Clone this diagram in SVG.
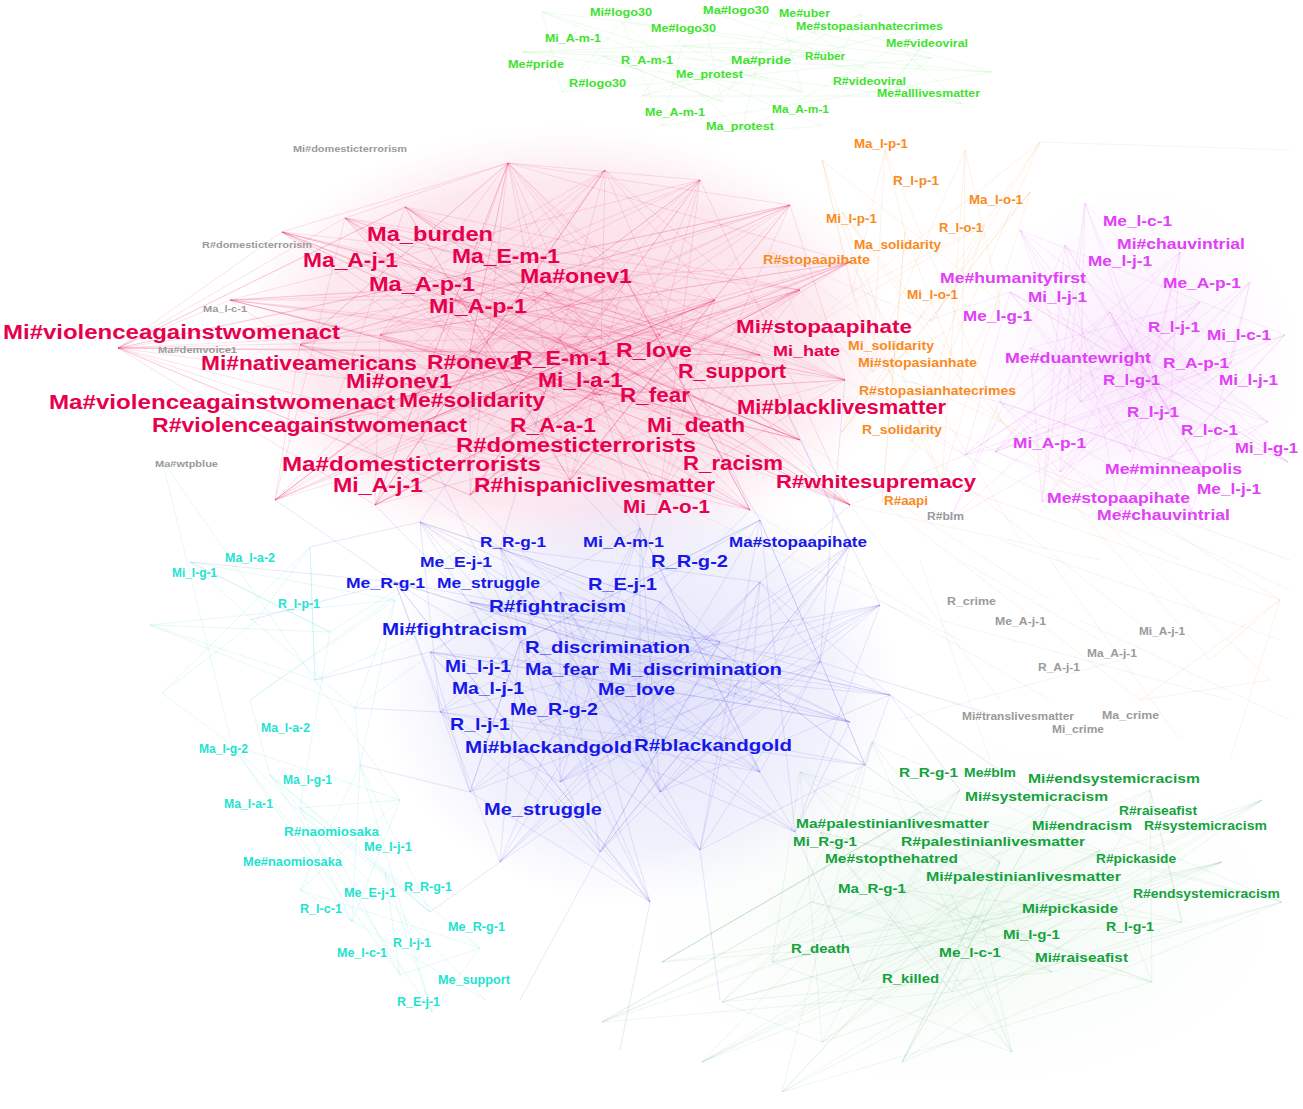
<svg xmlns="http://www.w3.org/2000/svg" width="1303" height="1109" viewBox="0 0 1303 1109">
<style>
text{font-family:"Liberation Sans",Arial,sans-serif;font-weight:bold}
.red{fill:#e6004e}.blue{fill:#1717e8}.mag{fill:#e040f6}.org{fill:#f98a1e}.lg{fill:#3fe22e}.dg{fill:#14a23d}.cy{fill:#1fe3d0}.gr{fill:#9a9a9a}
.e{fill:none;stroke-width:0.8;stroke-linejoin:round}
.er{stroke:#e8004f;stroke-opacity:0.15}.eb{stroke:#3030e0;stroke-opacity:0.15}.em{stroke:#d84cf0;stroke-opacity:0.14}.eo{stroke:#f58a2a;stroke-opacity:0.14}.eg{stroke:#2aa24c;stroke-opacity:0.11}.ec{stroke:#22d8c8;stroke-opacity:0.16}.el{stroke:#40e040;stroke-opacity:0.12}.ex{stroke:#c08080;stroke-opacity:0.12}
</style>
<defs>
<radialGradient id="hr"><stop offset="0" stop-color="#f08cb0" stop-opacity="0.4"/><stop offset="0.75" stop-color="#f4a6c2" stop-opacity="0.24"/><stop offset="1" stop-color="#f8c0d4" stop-opacity="0"/></radialGradient>
<radialGradient id="hb"><stop offset="0" stop-color="#a0a0f0" stop-opacity="0.34"/><stop offset="0.75" stop-color="#b8b8f4" stop-opacity="0.18"/><stop offset="1" stop-color="#c8c8f8" stop-opacity="0"/></radialGradient>
<radialGradient id="hm"><stop offset="0" stop-color="#eeb0f6" stop-opacity="0.3"/><stop offset="1" stop-color="#f4c8fa" stop-opacity="0"/></radialGradient>
<radialGradient id="hg"><stop offset="0" stop-color="#b4e4c0" stop-opacity="0.2"/><stop offset="1" stop-color="#c8ecd0" stop-opacity="0"/></radialGradient>
</defs>
<rect width="1303" height="1109" fill="#ffffff"/>
<g id="haze">
<ellipse cx="565" cy="345" rx="335" ry="220" fill="url(#hr)"/>
<ellipse cx="640" cy="690" rx="260" ry="215" fill="url(#hb)"/>
<ellipse cx="1135" cy="365" rx="165" ry="175" fill="url(#hm)"/>
<ellipse cx="960" cy="915" rx="320" ry="175" fill="url(#hg)"/>
</g>
<g id="connectors">
<path class="e er" d="M508 163 L560 340 L282 232 L800 440 L455 300 L850 505 L405 207 L330 420 L715 300 L570 480 L700 180 L380 335 L375 505 L850 262 L505 400 L345 218 L760 355 L230 300 L625 278 L275 500 L605 170 L600 395 L300 345 L660 495 L790 205 L845 380 L545 292 L750 510 L470 350 L700 420 L800 290 L470 495 L660 335 L118 348 L415 425 L508 163"/>
<path class="e er" d="M405 207 L545 292 L760 355 L275 500 L345 218 L715 300 L415 425 L660 495 L700 180 L300 345 L700 420 L850 505 L508 163 L455 300 L845 380 L375 505 L605 170 L470 350 L600 395 L230 300 L850 262 L560 340 L800 440 L282 232 L800 290 L330 420 L570 480 L790 205 L380 335 L505 400 L750 510 L625 278 L660 335 L470 495 L118 348 L405 207"/>
<path class="e er" d="M345 218 L600 395 L850 262 L470 495 L508 163 L300 345 L625 278 L750 510 L282 232 L760 355 L455 300 L800 440 L230 300 L545 292 L275 500 L700 180 L415 425 L800 290 L570 480 L405 207 L660 335 L850 505 L380 335 L605 170 L375 505 L715 300 L330 420 L790 205 L118 348 L470 350 L660 495 L845 380 L505 400 L560 340 L700 420 L345 218"/>
<path class="e er" d="M282 232 L545 292 L700 420 L405 207 L570 480 L455 300 L660 335 L275 500 L790 205 L470 350 L850 505 L345 218 L845 380 L625 278 L470 495 L700 180 L505 400 L300 345 L750 510 L605 170 L330 420 L800 290 L375 505 L508 163 L800 440 L380 335 L850 262 L415 425 L715 300 L230 300 L600 395 L560 340 L660 495 L760 355 L118 348 L282 232"/>
<path class="e er" d="M605 170 L300 345 L275 500 L545 292 L850 505 L282 232 L660 335 L700 420 L508 163 L660 495 L715 300 L415 425 L230 300 L700 180 L470 495 L470 350 L345 218 L600 395 L845 380 L455 300 L375 505 L800 290 L405 207 L800 440 L760 355 L118 348 L790 205 L570 480 L380 335 L625 278 L750 510 L330 420 L850 262 L505 400 L560 340 L605 170"/>
<path class="e er" d="M700 180 L275 500 L800 290 L345 218 L660 495 L560 340 L230 300 L845 380 L405 207 L700 420 L455 300 L750 510 L300 345 L790 205 L505 400 L282 232 L850 505 L470 350 L508 163 L570 480 L625 278 L330 420 L760 355 L605 170 L375 505 L600 395 L850 262 L380 335 L800 440 L545 292 L415 425 L715 300 L470 495 L660 335 L700 180"/>
<path class="e er" d="M118 348L405 207M118 348L345 218M118 348L455 300M118 348L380 335M118 348L330 420M118 348L375 505M118 348L505 400M118 348L470 495M118 348L230 300M508 163L282 232M508 163L345 218M508 163L380 335M508 163L470 350M508 163L660 335M508 163L850 262M508 163L790 205M508 163L700 180M508 163L300 345M700 180L850 505M605 170L845 380M790 205L300 345M850 262L330 420M760 355L282 232M600 395L790 205M715 300L275 500M545 292L850 505M625 278L375 505M700 420L230 300"/>
<path class="e ex" d="M850 505L1100 560M800 440L1050 600M850 262L1020 540M845 380L1290 590M750 510L930 620M850 505L1000 700M760 355L1180 560M660 495L960 640"/>
<path class="e eb" d="M420 522 L440 712 L760 520 L865 765 L660 602 L795 832 L500 548 L850 722 L430 652 L650 902 L395 582 L720 642 L600 852 L560 592 L560 782 L640 528 L640 722 L880 605 L500 862 L850 545 L660 792 L620 652 L890 695 L470 602 L750 702 L760 582 L700 850 L820 662 L760 772 L520 642 L470 792 L540 722 L420 522"/>
<path class="e eb" d="M500 548 L760 582 L640 722 L500 862 L640 528 L430 652 L470 792 L650 902 L395 582 L620 652 L760 772 L420 522 L660 602 L750 702 L600 852 L850 545 L820 662 L660 792 L890 695 L560 592 L440 712 L865 765 L760 520 L520 642 L850 722 L795 832 L470 602 L720 642 L560 782 L880 605 L540 722 L700 850 L500 548"/>
<path class="e eb" d="M640 528 L660 792 L560 592 L700 850 L420 522 L620 652 L880 605 L795 832 L760 520 L640 722 L660 602 L865 765 L890 695 L760 582 L500 862 L395 582 L470 792 L520 642 L650 902 L500 548 L540 722 L720 642 L850 545 L600 852 L430 652 L850 722 L470 602 L820 662 L750 702 L560 782 L440 712 L760 772 L640 528"/>
<path class="e eb" d="M760 520 L520 642 L500 862 L660 602 L420 522 L850 722 L620 652 L395 582 L795 832 L540 722 L640 528 L760 772 L430 652 L890 695 L470 602 L600 852 L720 642 L500 548 L660 792 L880 605 L440 712 L650 902 L560 592 L750 702 L850 545 L470 792 L820 662 L760 582 L560 782 L640 722 L865 765 L700 850 L760 520"/>
<path class="e eb" d="M420 522L505 400M500 548L330 420M640 528L600 395M760 520L700 420M850 545L800 440M560 592L470 495M660 602L750 510M395 582L275 500M470 602L375 505M760 582L850 505M880 605L760 355M720 642L570 480M520 642L415 425M620 652L660 495M820 662L845 380M640 528L470 350M500 548L560 340M395 582L250 620M430 652L315 680M440 712L355 708M470 792L360 765M395 582L190 562M420 522L310 547M650 902L620 1050M600 852L520 1000M700 850L720 1000M500 862L430 912M795 832L860 980M865 765L1000 862M890 695L1050 805M890 695L960 790M820 662L1010 720"/>
<path class="e eg" d="M800 772 L1282 902 L1050 805 L902 1062 L1000 862 L782 1092 L872 742 L1052 972 L812 902 L602 1022 L1262 800 L1082 902 L662 962 L920 812 L722 1002 L960 790 L862 982 L1222 862 L702 1062 L1150 790 L1152 982 L982 922 L1012 1052 L820 832 L952 992 L1100 850 L822 1042 L1182 922 L902 890 L772 962 L800 772"/>
<path class="e eg" d="M872 742 L1100 850 L862 982 L702 1062 L960 790 L812 902 L1152 982 L782 1092 L1262 800 L982 922 L822 1042 L800 772 L1000 862 L952 992 L602 1022 L1150 790 L1182 922 L662 962 L920 812 L1282 902 L902 1062 L1050 805 L902 890 L1052 972 L820 832 L1082 902 L722 1002 L1222 862 L772 962 L1012 1052 L872 742"/>
<path class="e eg" d="M960 790 L662 962 L920 812 L1012 1052 L800 772 L982 922 L1222 862 L782 1092 L1050 805 L862 982 L1000 862 L902 1062 L1262 800 L702 1062 L1100 850 L1152 982 L902 890 L602 1022 L812 902 L872 742 L772 962 L1082 902 L1150 790 L1182 922 L820 832 L952 992 L1282 902 L1052 972 L722 1002 L822 1042 L960 790"/>
<path class="e em" d="M1085 203 L1060 472 L1250 282 L1042 502 L1030 348 L950 520 L1065 245 L1205 472 L1000 402 L1192 512 L1110 312 L1268 422 L1020 230 L1285 335 L1120 512 L1180 252 L1130 452 L1232 362 L965 455 L1010 292 L1288 462 L1170 412 L1130 345 L995 452 L1200 302 L1080 402 L1085 203"/>
<path class="e em" d="M1065 245 L1130 345 L1288 462 L1010 292 L1192 512 L1085 203 L1170 412 L965 455 L1200 302 L1060 472 L1180 252 L1000 402 L1120 512 L1285 335 L995 452 L1110 312 L1205 472 L1020 230 L1080 402 L950 520 L1232 362 L1250 282 L1130 452 L1030 348 L1268 422 L1042 502 L1065 245"/>
<path class="e em" d="M1180 252 L995 452 L1232 362 L1085 203 L1042 502 L1200 302 L1030 348 L1288 462 L1065 245 L1120 512 L1268 422 L1010 292 L1130 452 L1020 230 L1192 512 L1250 282 L1080 402 L1285 335 L1060 472 L1000 402 L1205 472 L1110 312 L965 455 L1130 345 L1170 412 L1180 252"/>
<path class="e em" d="M950 520L860 470M965 455L880 395M1000 402L900 380M1010 292L930 320M965 455L850 505M995 452L1290 560"/>
<path class="e eo" d="M822 160 L912 442 L1040 142 L802 332 L772 252 L1002 422 L885 150 L872 372 L1000 302 L882 502 L905 232 L962 382 L965 150 L842 432 L1030 192 L942 482 L842 212 L932 322 L985 225 L852 292 L822 160"/>
<path class="e eo" d="M885 150 L852 292 L942 482 L965 150 L1000 302 L822 160 L872 372 L1030 192 L842 432 L1040 142 L932 322 L772 252 L912 442 L985 225 L802 332 L1002 422 L842 212 L962 382 L882 502 L905 232 L885 150"/>
<path class="e eo" d="M942 482L1280 600L1002 422L1210 660L1280 600L1140 700L882 502M1270 680L1002 422M1040 142L1290 150M1280 600L1230 760M1140 700L1270 680M912 442L1160 640"/>
<path class="e ex" d="M880 600L1050 700M960 560L1100 640M1000 540L1280 640M900 720L1120 660M1050 560L1180 740M940 620L1230 700M920 560L990 760M1080 620L1290 720"/>
<path class="e ec" d="M190 562 L330 632 L150 625 L315 680 L310 547 L162 693 L255 622 L355 708 L395 600 L250 700 L462 548 L330 632 L190 562 L255 622 L310 547 L315 680 L515 595 L355 708 L150 625 L395 600 L190 562"/>
<path class="e ec" d="M232 745 L330 842 L270 775 L430 912 L360 765 L300 890 L400 800 L352 922 L300 808 L385 872 L400 975 L330 842 L486 1000 L300 890 L480 948 L270 775 L432 1012 L360 765 L352 922 L232 745 L400 800 L300 808 L430 912 L385 872 L432 1012 L480 948 L400 975 L232 745"/>
<path class="e ec" d="M250 700 L270 775M355 708 L360 765M315 680 L400 800M162 693 L232 745M330 632 L300 808M395 600 L360 765M162 460L232 745M162 460L315 680"/>
<path class="e el" d="M542 12 L802 92 L780 10 L992 72 L682 46 L662 126 L622 22 L562 92 L932 58 L882 96 L942 22 L642 96 L702 8 L722 102 L602 56 L962 104 L862 14 L842 52 L522 52 L762 42 L742 132 L822 126 L542 12"/>
<path class="e el" d="M622 22 L762 42 L962 104 L702 8 L932 58 L542 12 L562 92 L602 56 L722 102 L780 10 L842 52 L682 46 L802 92 L522 52 L992 72 L662 126 L862 14 L642 96 L882 96 L942 22 L742 132 L622 22"/>
</g>
<g id="n-lg1"><text class="lg" x="590" y="16" font-size="11.5" textLength="62" lengthAdjust="spacingAndGlyphs">Mi#logo30</text></g>
<g id="n-lg2"><text class="lg" x="703" y="14" font-size="11.5" textLength="66" lengthAdjust="spacingAndGlyphs">Ma#logo30</text></g>
<g id="n-lg3"><text class="lg" x="779" y="17" font-size="11.5" textLength="51" lengthAdjust="spacingAndGlyphs">Me#uber</text></g>
<g id="n-lg4"><text class="lg" x="796" y="30" font-size="11.5" textLength="147" lengthAdjust="spacingAndGlyphs">Me#stopasianhatecrimes</text></g>
<g id="n-lg5"><text class="lg" x="651" y="32" font-size="11.5" textLength="65" lengthAdjust="spacingAndGlyphs">Me#logo30</text></g>
<g id="n-lg6"><text class="lg" x="545" y="42" font-size="11.5" textLength="56" lengthAdjust="spacingAndGlyphs">Mi_A-m-1</text></g>
<g id="n-lg7"><text class="lg" x="886" y="47" font-size="11.5" textLength="82" lengthAdjust="spacingAndGlyphs">Me#videoviral</text></g>
<g id="n-lg8"><text class="lg" x="508" y="68" font-size="11.5" textLength="56" lengthAdjust="spacingAndGlyphs">Me#pride</text></g>
<g id="n-lg9"><text class="lg" x="621" y="64" font-size="11.5" textLength="52" lengthAdjust="spacingAndGlyphs">R_A-m-1</text></g>
<g id="n-lg10"><text class="lg" x="731" y="64" font-size="11.5" textLength="60" lengthAdjust="spacingAndGlyphs">Ma#pride</text></g>
<g id="n-lg11"><text class="lg" x="805" y="60" font-size="11.5" textLength="40" lengthAdjust="spacingAndGlyphs">R#uber</text></g>
<g id="n-lg12"><text class="lg" x="676" y="78" font-size="11.5" textLength="67" lengthAdjust="spacingAndGlyphs">Me_protest</text></g>
<g id="n-lg13"><text class="lg" x="569" y="87" font-size="11.5" textLength="57" lengthAdjust="spacingAndGlyphs">R#logo30</text></g>
<g id="n-lg14"><text class="lg" x="833" y="85" font-size="11.5" textLength="73" lengthAdjust="spacingAndGlyphs">R#videoviral</text></g>
<g id="n-lg15"><text class="lg" x="877" y="97" font-size="11.5" textLength="103" lengthAdjust="spacingAndGlyphs">Me#alllivesmatter</text></g>
<g id="n-lg16"><text class="lg" x="645" y="116" font-size="11.5" textLength="60" lengthAdjust="spacingAndGlyphs">Me_A-m-1</text></g>
<g id="n-lg17"><text class="lg" x="772" y="113" font-size="11.5" textLength="57" lengthAdjust="spacingAndGlyphs">Ma_A-m-1</text></g>
<g id="n-lg18"><text class="lg" x="706" y="130" font-size="11.5" textLength="68" lengthAdjust="spacingAndGlyphs">Ma_protest</text></g>
<g id="n-gr1"><text class="gr" x="293" y="152" font-size="9.5" textLength="114" lengthAdjust="spacingAndGlyphs">Mi#domesticterrorism</text></g>
<g id="n-gr2"><text class="gr" x="202" y="248" font-size="9.5" textLength="110" lengthAdjust="spacingAndGlyphs">R#domesticterrorism</text></g>
<g id="n-gr3"><text class="gr" x="203" y="312" font-size="9.5" textLength="44" lengthAdjust="spacingAndGlyphs">Ma_l-c-1</text></g>
<g id="n-gr4"><text class="gr" x="158" y="353" font-size="9.5" textLength="79" lengthAdjust="spacingAndGlyphs">Ma#demvoice1</text></g>
<g id="n-gr5"><text class="gr" x="155" y="467" font-size="9.5" textLength="63" lengthAdjust="spacingAndGlyphs">Ma#wtpblue</text></g>
<g id="n-gr6"><text class="gr" x="927" y="520" font-size="10" textLength="37" lengthAdjust="spacingAndGlyphs">R#blm</text></g>
<g id="n-gr7"><text class="gr" x="947" y="605" font-size="10" textLength="49" lengthAdjust="spacingAndGlyphs">R_crime</text></g>
<g id="n-gr8"><text class="gr" x="995" y="625" font-size="10" textLength="51" lengthAdjust="spacingAndGlyphs">Me_A-j-1</text></g>
<g id="n-gr9"><text class="gr" x="1139" y="635" font-size="10" textLength="46" lengthAdjust="spacingAndGlyphs">Mi_A-j-1</text></g>
<g id="n-gr10"><text class="gr" x="1087" y="657" font-size="10" textLength="50" lengthAdjust="spacingAndGlyphs">Ma_A-j-1</text></g>
<g id="n-gr11"><text class="gr" x="1038" y="671" font-size="10" textLength="42" lengthAdjust="spacingAndGlyphs">R_A-j-1</text></g>
<g id="n-gr12"><text class="gr" x="962" y="720" font-size="10" textLength="112" lengthAdjust="spacingAndGlyphs">Mi#translivesmatter</text></g>
<g id="n-gr13"><text class="gr" x="1102" y="719" font-size="10" textLength="57" lengthAdjust="spacingAndGlyphs">Ma_crime</text></g>
<g id="n-gr14"><text class="gr" x="1052" y="733" font-size="10" textLength="52" lengthAdjust="spacingAndGlyphs">Mi_crime</text></g>
<g id="n-r1"><text class="red" x="367" y="241" font-size="20" textLength="126" lengthAdjust="spacingAndGlyphs">Ma_burden</text></g>
<g id="n-r2"><text class="red" x="303" y="267" font-size="20" textLength="95" lengthAdjust="spacingAndGlyphs">Ma_A-j-1</text></g>
<g id="n-r3"><text class="red" x="452" y="263" font-size="20" textLength="108" lengthAdjust="spacingAndGlyphs">Ma_E-m-1</text></g>
<g id="n-r4"><text class="red" x="520" y="283" font-size="20" textLength="112" lengthAdjust="spacingAndGlyphs">Ma#onev1</text></g>
<g id="n-r5"><text class="red" x="369" y="291" font-size="20" textLength="106" lengthAdjust="spacingAndGlyphs">Ma_A-p-1</text></g>
<g id="n-r6"><text class="red" x="429" y="313" font-size="20" textLength="98" lengthAdjust="spacingAndGlyphs">Mi_A-p-1</text></g>
<g id="n-r7"><text class="red" x="3" y="339" font-size="20" textLength="337" lengthAdjust="spacingAndGlyphs">Mi#violenceagainstwomenact</text></g>
<g id="n-r8"><text class="red" x="201" y="370" font-size="20" textLength="216" lengthAdjust="spacingAndGlyphs">Mi#nativeamericans</text></g>
<g id="n-r9"><text class="red" x="427" y="369" font-size="20" textLength="95" lengthAdjust="spacingAndGlyphs">R#onev1</text></g>
<g id="n-r10"><text class="red" x="516" y="365" font-size="20" textLength="94" lengthAdjust="spacingAndGlyphs">R_E-m-1</text></g>
<g id="n-r11"><text class="red" x="616" y="357" font-size="20" textLength="76" lengthAdjust="spacingAndGlyphs">R_love</text></g>
<g id="n-r12"><text class="red" x="346" y="388" font-size="20" textLength="106" lengthAdjust="spacingAndGlyphs">Mi#onev1</text></g>
<g id="n-r13"><text class="red" x="538" y="387" font-size="20" textLength="85" lengthAdjust="spacingAndGlyphs">Mi_l-a-1</text></g>
<g id="n-r14"><text class="red" x="678" y="378" font-size="20" textLength="108" lengthAdjust="spacingAndGlyphs">R_support</text></g>
<g id="n-r15"><text class="red" x="49" y="409" font-size="20" textLength="346" lengthAdjust="spacingAndGlyphs">Ma#violenceagainstwomenact</text></g>
<g id="n-r16"><text class="red" x="399" y="407" font-size="20" textLength="146" lengthAdjust="spacingAndGlyphs">Me#solidarity</text></g>
<g id="n-r17"><text class="red" x="620" y="402" font-size="20" textLength="70" lengthAdjust="spacingAndGlyphs">R_fear</text></g>
<g id="n-r18"><text class="red" x="736" y="333" font-size="18.5" textLength="176" lengthAdjust="spacingAndGlyphs">Mi#stopaapihate</text></g>
<g id="n-r19"><text class="red" x="773" y="356" font-size="15" textLength="67" lengthAdjust="spacingAndGlyphs">Mi_hate</text></g>
<g id="n-r20"><text class="red" x="737" y="414" font-size="19.5" textLength="209" lengthAdjust="spacingAndGlyphs">Mi#blacklivesmatter</text></g>
<g id="n-r21"><text class="red" x="152" y="432" font-size="20" textLength="315" lengthAdjust="spacingAndGlyphs">R#violenceagainstwomenact</text></g>
<g id="n-r22"><text class="red" x="510" y="432" font-size="20" textLength="86" lengthAdjust="spacingAndGlyphs">R_A-a-1</text></g>
<g id="n-r23"><text class="red" x="647" y="432" font-size="20" textLength="98" lengthAdjust="spacingAndGlyphs">Mi_death</text></g>
<g id="n-r24"><text class="red" x="456" y="452" font-size="20" textLength="240" lengthAdjust="spacingAndGlyphs">R#domesticterrorists</text></g>
<g id="n-r25"><text class="red" x="282" y="471" font-size="20" textLength="259" lengthAdjust="spacingAndGlyphs">Ma#domesticterrorists</text></g>
<g id="n-r26"><text class="red" x="683" y="470" font-size="20" textLength="100" lengthAdjust="spacingAndGlyphs">R_racism</text></g>
<g id="n-r27"><text class="red" x="776" y="488" font-size="19" textLength="200" lengthAdjust="spacingAndGlyphs">R#whitesupremacy</text></g>
<g id="n-r28"><text class="red" x="333" y="492" font-size="20" textLength="90" lengthAdjust="spacingAndGlyphs">Mi_A-j-1</text></g>
<g id="n-r29"><text class="red" x="474" y="492" font-size="20" textLength="241" lengthAdjust="spacingAndGlyphs">R#hispaniclivesmatter</text></g>
<g id="n-r30"><text class="red" x="623" y="513" font-size="19" textLength="87" lengthAdjust="spacingAndGlyphs">Mi_A-o-1</text></g>
<g id="n-o1"><text class="org" x="854" y="148" font-size="12.5" textLength="54" lengthAdjust="spacingAndGlyphs">Ma_l-p-1</text></g>
<g id="n-o2"><text class="org" x="893" y="185" font-size="12.5" textLength="46" lengthAdjust="spacingAndGlyphs">R_l-p-1</text></g>
<g id="n-o3"><text class="org" x="969" y="204" font-size="12.5" textLength="54" lengthAdjust="spacingAndGlyphs">Ma_l-o-1</text></g>
<g id="n-o4"><text class="org" x="826" y="223" font-size="12.5" textLength="51" lengthAdjust="spacingAndGlyphs">Mi_l-p-1</text></g>
<g id="n-o5"><text class="org" x="939" y="232" font-size="12.5" textLength="44" lengthAdjust="spacingAndGlyphs">R_l-o-1</text></g>
<g id="n-o6"><text class="org" x="854" y="249" font-size="12.5" textLength="87" lengthAdjust="spacingAndGlyphs">Ma_solidarity</text></g>
<g id="n-o7"><text class="org" x="763" y="264" font-size="12.5" textLength="107" lengthAdjust="spacingAndGlyphs">R#stopaapihate</text></g>
<g id="n-o8"><text class="org" x="907" y="299" font-size="12.5" textLength="51" lengthAdjust="spacingAndGlyphs">Mi_l-o-1</text></g>
<g id="n-o9"><text class="org" x="848" y="350" font-size="12.5" textLength="86" lengthAdjust="spacingAndGlyphs">Mi_solidarity</text></g>
<g id="n-o10"><text class="org" x="858" y="367" font-size="12.5" textLength="119" lengthAdjust="spacingAndGlyphs">Mi#stopasianhate</text></g>
<g id="n-o11"><text class="org" x="859" y="395" font-size="12.5" textLength="157" lengthAdjust="spacingAndGlyphs">R#stopasianhatecrimes</text></g>
<g id="n-o12"><text class="org" x="862" y="434" font-size="12.5" textLength="80" lengthAdjust="spacingAndGlyphs">R_solidarity</text></g>
<g id="n-o13"><text class="org" x="884" y="505" font-size="12.5" textLength="44" lengthAdjust="spacingAndGlyphs">R#aapi</text></g>
<g id="n-m1"><text class="mag" x="1103" y="226" font-size="15.5" textLength="69" lengthAdjust="spacingAndGlyphs">Me_l-c-1</text></g>
<g id="n-m2"><text class="mag" x="1117" y="249" font-size="15.5" textLength="128" lengthAdjust="spacingAndGlyphs">Mi#chauvintrial</text></g>
<g id="n-m3"><text class="mag" x="1088" y="266" font-size="15.5" textLength="64" lengthAdjust="spacingAndGlyphs">Me_l-j-1</text></g>
<g id="n-m4"><text class="mag" x="940" y="283" font-size="15.5" textLength="146" lengthAdjust="spacingAndGlyphs">Me#humanityfirst</text></g>
<g id="n-m5"><text class="mag" x="1163" y="288" font-size="15.5" textLength="78" lengthAdjust="spacingAndGlyphs">Me_A-p-1</text></g>
<g id="n-m6"><text class="mag" x="1028" y="302" font-size="15.5" textLength="59" lengthAdjust="spacingAndGlyphs">Mi_l-j-1</text></g>
<g id="n-m7"><text class="mag" x="963" y="321" font-size="15.5" textLength="69" lengthAdjust="spacingAndGlyphs">Me_l-g-1</text></g>
<g id="n-m8"><text class="mag" x="1148" y="332" font-size="15.5" textLength="52" lengthAdjust="spacingAndGlyphs">R_l-j-1</text></g>
<g id="n-m9"><text class="mag" x="1207" y="340" font-size="15.5" textLength="64" lengthAdjust="spacingAndGlyphs">Mi_l-c-1</text></g>
<g id="n-m10"><text class="mag" x="1005" y="363" font-size="15.5" textLength="146" lengthAdjust="spacingAndGlyphs">Me#duantewright</text></g>
<g id="n-m11"><text class="mag" x="1163" y="368" font-size="15.5" textLength="66" lengthAdjust="spacingAndGlyphs">R_A-p-1</text></g>
<g id="n-m12"><text class="mag" x="1103" y="385" font-size="15.5" textLength="57" lengthAdjust="spacingAndGlyphs">R_l-g-1</text></g>
<g id="n-m13"><text class="mag" x="1219" y="385" font-size="15.5" textLength="59" lengthAdjust="spacingAndGlyphs">Mi_l-j-1</text></g>
<g id="n-m14"><text class="mag" x="1127" y="417" font-size="15.5" textLength="52" lengthAdjust="spacingAndGlyphs">R_l-j-1</text></g>
<g id="n-m15"><text class="mag" x="1181" y="435" font-size="15.5" textLength="57" lengthAdjust="spacingAndGlyphs">R_l-c-1</text></g>
<g id="n-m16"><text class="mag" x="1013" y="448" font-size="15.5" textLength="73" lengthAdjust="spacingAndGlyphs">Mi_A-p-1</text></g>
<g id="n-m17"><text class="mag" x="1235" y="453" font-size="15.5" textLength="63" lengthAdjust="spacingAndGlyphs">Mi_l-g-1</text></g>
<g id="n-m18"><text class="mag" x="1105" y="474" font-size="15.5" textLength="137" lengthAdjust="spacingAndGlyphs">Me#minneapolis</text></g>
<g id="n-m19"><text class="mag" x="1197" y="494" font-size="15.5" textLength="64" lengthAdjust="spacingAndGlyphs">Me_l-j-1</text></g>
<g id="n-m20"><text class="mag" x="1047" y="503" font-size="15.5" textLength="143" lengthAdjust="spacingAndGlyphs">Me#stopaapihate</text></g>
<g id="n-m21"><text class="mag" x="1097" y="520" font-size="15.5" textLength="133" lengthAdjust="spacingAndGlyphs">Me#chauvintrial</text></g>
<g id="n-b1"><text class="blue" x="480" y="547" font-size="15.5" textLength="66" lengthAdjust="spacingAndGlyphs">R_R-g-1</text></g>
<g id="n-b2"><text class="blue" x="583" y="547" font-size="15.5" textLength="81" lengthAdjust="spacingAndGlyphs">Mi_A-m-1</text></g>
<g id="n-b3"><text class="blue" x="729" y="547" font-size="14.5" textLength="138" lengthAdjust="spacingAndGlyphs">Ma#stopaapihate</text></g>
<g id="n-b4"><text class="blue" x="420" y="567" font-size="15.5" textLength="72" lengthAdjust="spacingAndGlyphs">Me_E-j-1</text></g>
<g id="n-b5"><text class="blue" x="651" y="567" font-size="17" textLength="77" lengthAdjust="spacingAndGlyphs">R_R-g-2</text></g>
<g id="n-b6"><text class="blue" x="346" y="588" font-size="15.5" textLength="79" lengthAdjust="spacingAndGlyphs">Me_R-g-1</text></g>
<g id="n-b7"><text class="blue" x="437" y="588" font-size="15.5" textLength="103" lengthAdjust="spacingAndGlyphs">Me_struggle</text></g>
<g id="n-b8"><text class="blue" x="588" y="590" font-size="17" textLength="69" lengthAdjust="spacingAndGlyphs">R_E-j-1</text></g>
<g id="n-b9"><text class="blue" x="489" y="612" font-size="17" textLength="137" lengthAdjust="spacingAndGlyphs">R#fightracism</text></g>
<g id="n-b10"><text class="blue" x="382" y="635" font-size="17" textLength="145" lengthAdjust="spacingAndGlyphs">Mi#fightracism</text></g>
<g id="n-b11"><text class="blue" x="525" y="653" font-size="17" textLength="165" lengthAdjust="spacingAndGlyphs">R_discrimination</text></g>
<g id="n-b12"><text class="blue" x="445" y="672" font-size="17" textLength="66" lengthAdjust="spacingAndGlyphs">Mi_l-j-1</text></g>
<g id="n-b13"><text class="blue" x="525" y="675" font-size="17" textLength="74" lengthAdjust="spacingAndGlyphs">Ma_fear</text></g>
<g id="n-b14"><text class="blue" x="609" y="675" font-size="17" textLength="173" lengthAdjust="spacingAndGlyphs">Mi_discrimination</text></g>
<g id="n-b15"><text class="blue" x="452" y="694" font-size="17" textLength="72" lengthAdjust="spacingAndGlyphs">Ma_l-j-1</text></g>
<g id="n-b16"><text class="blue" x="598" y="695" font-size="17" textLength="77" lengthAdjust="spacingAndGlyphs">Me_love</text></g>
<g id="n-b17"><text class="blue" x="510" y="715" font-size="17" textLength="88" lengthAdjust="spacingAndGlyphs">Me_R-g-2</text></g>
<g id="n-b18"><text class="blue" x="450" y="730" font-size="17" textLength="60" lengthAdjust="spacingAndGlyphs">R_l-j-1</text></g>
<g id="n-b19"><text class="blue" x="465" y="753" font-size="17" textLength="167" lengthAdjust="spacingAndGlyphs">Mi#blackandgold</text></g>
<g id="n-b20"><text class="blue" x="634" y="751" font-size="17" textLength="158" lengthAdjust="spacingAndGlyphs">R#blackandgold</text></g>
<g id="n-b21"><text class="blue" x="484" y="815" font-size="17" textLength="118" lengthAdjust="spacingAndGlyphs">Me_struggle</text></g>
<g id="n-c1"><text class="cy" x="225" y="562" font-size="12" textLength="50" lengthAdjust="spacingAndGlyphs">Ma_l-a-2</text></g>
<g id="n-c2"><text class="cy" x="172" y="577" font-size="12" textLength="45" lengthAdjust="spacingAndGlyphs">Mi_l-g-1</text></g>
<g id="n-c3"><text class="cy" x="278" y="608" font-size="12" textLength="42" lengthAdjust="spacingAndGlyphs">R_l-p-1</text></g>
<g id="n-c4"><text class="cy" x="261" y="732" font-size="12" textLength="49" lengthAdjust="spacingAndGlyphs">Ma_l-a-2</text></g>
<g id="n-c5"><text class="cy" x="199" y="753" font-size="12" textLength="49" lengthAdjust="spacingAndGlyphs">Ma_l-g-2</text></g>
<g id="n-c6"><text class="cy" x="283" y="784" font-size="12" textLength="49" lengthAdjust="spacingAndGlyphs">Ma_l-g-1</text></g>
<g id="n-c7"><text class="cy" x="224" y="808" font-size="12" textLength="49" lengthAdjust="spacingAndGlyphs">Ma_l-a-1</text></g>
<g id="n-c8"><text class="cy" x="284" y="836" font-size="12" textLength="95" lengthAdjust="spacingAndGlyphs">R#naomiosaka</text></g>
<g id="n-c9"><text class="cy" x="364" y="851" font-size="12" textLength="48" lengthAdjust="spacingAndGlyphs">Me_l-j-1</text></g>
<g id="n-c10"><text class="cy" x="243" y="866" font-size="12" textLength="99" lengthAdjust="spacingAndGlyphs">Me#naomiosaka</text></g>
<g id="n-c11"><text class="cy" x="404" y="891" font-size="12" textLength="48" lengthAdjust="spacingAndGlyphs">R_R-g-1</text></g>
<g id="n-c12"><text class="cy" x="344" y="897" font-size="12" textLength="52" lengthAdjust="spacingAndGlyphs">Me_E-j-1</text></g>
<g id="n-c13"><text class="cy" x="300" y="913" font-size="12" textLength="42" lengthAdjust="spacingAndGlyphs">R_l-c-1</text></g>
<g id="n-c14"><text class="cy" x="448" y="931" font-size="12" textLength="57" lengthAdjust="spacingAndGlyphs">Me_R-g-1</text></g>
<g id="n-c15"><text class="cy" x="393" y="947" font-size="12" textLength="38" lengthAdjust="spacingAndGlyphs">R_l-j-1</text></g>
<g id="n-c16"><text class="cy" x="337" y="957" font-size="12" textLength="50" lengthAdjust="spacingAndGlyphs">Me_l-c-1</text></g>
<g id="n-c17"><text class="cy" x="438" y="984" font-size="12" textLength="72" lengthAdjust="spacingAndGlyphs">Me_support</text></g>
<g id="n-c18"><text class="cy" x="397" y="1006" font-size="12" textLength="43" lengthAdjust="spacingAndGlyphs">R_E-j-1</text></g>
<g id="n-g1"><text class="dg" x="899" y="777" font-size="13" textLength="59" lengthAdjust="spacingAndGlyphs">R_R-g-1</text></g>
<g id="n-g2"><text class="dg" x="964" y="777" font-size="13" textLength="52" lengthAdjust="spacingAndGlyphs">Me#blm</text></g>
<g id="n-g3"><text class="dg" x="1028" y="783" font-size="13" textLength="172" lengthAdjust="spacingAndGlyphs">Mi#endsystemicracism</text></g>
<g id="n-g4"><text class="dg" x="965" y="801" font-size="13" textLength="143" lengthAdjust="spacingAndGlyphs">Mi#systemicracism</text></g>
<g id="n-g5"><text class="dg" x="1119" y="815" font-size="13" textLength="78" lengthAdjust="spacingAndGlyphs">R#raiseafist</text></g>
<g id="n-g6"><text class="dg" x="796" y="828" font-size="13" textLength="193" lengthAdjust="spacingAndGlyphs">Ma#palestinianlivesmatter</text></g>
<g id="n-g7"><text class="dg" x="1032" y="830" font-size="13" textLength="100" lengthAdjust="spacingAndGlyphs">Mi#endracism</text></g>
<g id="n-g8"><text class="dg" x="1144" y="830" font-size="13" textLength="123" lengthAdjust="spacingAndGlyphs">R#systemicracism</text></g>
<g id="n-g9"><text class="dg" x="793" y="846" font-size="13" textLength="64" lengthAdjust="spacingAndGlyphs">Mi_R-g-1</text></g>
<g id="n-g10"><text class="dg" x="901" y="846" font-size="13" textLength="184" lengthAdjust="spacingAndGlyphs">R#palestinianlivesmatter</text></g>
<g id="n-g11"><text class="dg" x="825" y="863" font-size="13" textLength="133" lengthAdjust="spacingAndGlyphs">Me#stopthehatred</text></g>
<g id="n-g12"><text class="dg" x="1096" y="863" font-size="13" textLength="80" lengthAdjust="spacingAndGlyphs">R#pickaside</text></g>
<g id="n-g13"><text class="dg" x="926" y="881" font-size="13" textLength="195" lengthAdjust="spacingAndGlyphs">Mi#palestinianlivesmatter</text></g>
<g id="n-g14"><text class="dg" x="838" y="893" font-size="13" textLength="68" lengthAdjust="spacingAndGlyphs">Ma_R-g-1</text></g>
<g id="n-g15"><text class="dg" x="1133" y="898" font-size="13" textLength="147" lengthAdjust="spacingAndGlyphs">R#endsystemicracism</text></g>
<g id="n-g16"><text class="dg" x="1022" y="913" font-size="13" textLength="96" lengthAdjust="spacingAndGlyphs">Mi#pickaside</text></g>
<g id="n-g17"><text class="dg" x="1106" y="931" font-size="13" textLength="48" lengthAdjust="spacingAndGlyphs">R_l-g-1</text></g>
<g id="n-g18"><text class="dg" x="1003" y="939" font-size="13" textLength="57" lengthAdjust="spacingAndGlyphs">Mi_l-g-1</text></g>
<g id="n-g19"><text class="dg" x="791" y="953" font-size="13" textLength="59" lengthAdjust="spacingAndGlyphs">R_death</text></g>
<g id="n-g20"><text class="dg" x="939" y="957" font-size="13" textLength="62" lengthAdjust="spacingAndGlyphs">Me_l-c-1</text></g>
<g id="n-g21"><text class="dg" x="1035" y="962" font-size="13" textLength="93" lengthAdjust="spacingAndGlyphs">Mi#raiseafist</text></g>
<g id="n-g22"><text class="dg" x="882" y="983" font-size="13" textLength="57" lengthAdjust="spacingAndGlyphs">R_killed</text></g>
</svg>
